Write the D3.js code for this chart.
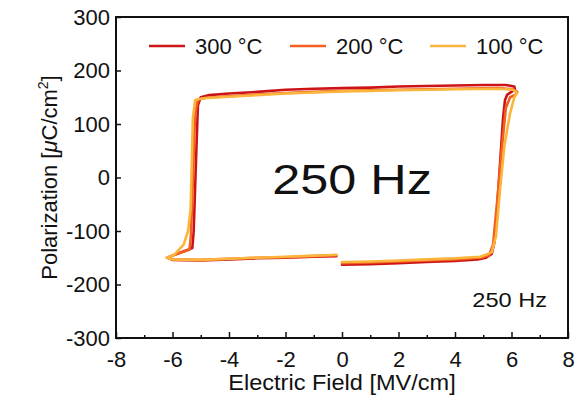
<!DOCTYPE html>
<html>
<head>
<meta charset="utf-8">
<script src="https://cdn.jsdelivr.net/npm/d3@7"></script>
<style>
  body { margin: 0; background: #fff; }
  svg text { font-family: "Liberation Sans", Arial, Helvetica, sans-serif; fill: #111; }
</style>
</head>
<body>
<svg id="svg" width="577" height="404"></svg>
<script>
const width = 577;
const height = 404;

// hysteresis loops, [field MV/cm, polarization uC/cm2]
const loop300 = [
  [0, -163], [1, -162], [2, -160], [3, -158], [4, -156], [4.8, -153], [5.1, -150],
  [5.3, -143], [5.4, -120], [5.5, -50], [5.6, 30], [5.7, 110], [5.77, 145], [5.85, 155],
  [6.0, 160], [6.12, 165], [6.1, 170], [5.8, 173], [5, 173], [4, 172], [3, 171], [2, 170],
  [1, 168], [0, 167], [-1, 166], [-2, 164], [-3, 160], [-4, 157], [-4.7, 154], [-5.0, 150],
  [-5.1, 135], [-5.15, 60], [-5.2, -20], [-5.25, -100], [-5.3, -132], [-5.6, -138],
  [-6.0, -146], [-6.15, -150], [-6.0, -154], [-5, -155], [-4, -153], [-3, -151], [-2, -150],
  [-1, -148], [-0.2, -147]
];
const loop200 = [
  [0, -160], [1, -159], [2, -157], [3, -155], [4, -153], [4.9, -150], [5.2, -146],
  [5.35, -125], [5.5, -40], [5.65, 50], [5.8, 130], [5.95, 150], [6.15, 155], [6.2, 160],
  [6.05, 165], [5.5, 167], [4, 166], [3, 165], [2, 164], [1, 163], [0, 162], [-1, 160],
  [-2, 158], [-3, 155], [-4, 152], [-4.8, 149], [-5.1, 146], [-5.2, 120], [-5.25, 40],
  [-5.3, -40], [-5.35, -110], [-5.4, -135], [-5.8, -142], [-6.05, -147], [-6.2, -150],
  [-6.0, -153], [-5, -154], [-4, -152], [-3, -150], [-2, -149], [-1, -147], [-0.2, -145]
];
const loop100 = [
  [0, -158], [1, -157], [2, -155], [3, -153], [4, -151], [4.9, -148], [5.3, -140],
  [5.45, -110], [5.6, -20], [5.75, 60], [5.95, 120], [6.1, 150], [6.2, 158], [6.05, 164],
  [5.5, 166], [4, 165], [3, 164], [2, 163], [1, 162], [0, 161], [-1, 159], [-2, 157],
  [-3, 154], [-4, 151], [-4.9, 148], [-5.2, 145], [-5.28, 110], [-5.32, 20], [-5.36, -60],
  [-5.45, -100], [-5.6, -125], [-5.95, -145], [-6.2, -150], [-6.0, -153], [-5, -154],
  [-4, -152], [-3, -150], [-2, -148], [-1, -146], [-0.2, -145]
];

const seriesNames = ["300 °C", "200 °C", "100 °C"];
const seriesColors = ["#cc1417", "#f2601f", "#fcb53c"];
const seriesData = [loop300, loop200, loop100];

const xTicks = [-8, -6, -4, -2, 0, 2, 4, 6, 8];
const xMinorTicks = [-7, -5, -3, -1, 1, 3, 5, 7];
const yTicks = [-300, -200, -100, 0, 100, 200, 300];

const margin = { left: 116, right: 9, top: 17, bottom: 66 };

let svg = d3.select("#svg");

const x = d3.scaleLinear().domain([-8, 8]).range([margin.left, width - margin.right]);
const y = d3.scaleLinear().domain([-300, 300]).range([height - margin.bottom, margin.top]);

// plain hyphen for negatives, like the original
const fmt = (d) => String(d);

// curves (drawn first so the frame sits on top)
const line = d3.line().x((d) => x(d[0])).y((d) => y(d[1]));

svg.append("g")
  .selectAll("path")
  .data(seriesData)
  .enter()
  .append("path")
  .attr("d", line)
  .attr("fill", "none")
  .attr("stroke", (d, i) => seriesColors[i])
  .attr("stroke-width", 2.6)
  .attr("stroke-linejoin", "round")
  .attr("stroke-linecap", "round");

// bottom axis, ticks inward
let xAxis = svg.append("g")
  .attr("transform", `translate(0,${y(-300)})`)
  .call(d3.axisBottom(x).tickValues(xTicks).tickSize(-6).tickPadding(10).tickFormat(fmt));
svg.append("g")
  .attr("transform", `translate(0,${y(-300)})`)
  .call(d3.axisBottom(x).tickValues(xMinorTicks).tickSize(-3).tickFormat(""))
  .call((g) => g.select(".domain").remove());

// left axis, ticks inward
let yAxis = svg.append("g")
  .attr("transform", `translate(${x(-8)},0)`)
  .call(d3.axisLeft(y).tickValues(yTicks).tickSize(-5).tickPadding(6).tickFormat(fmt));

svg.selectAll(".tick line").attr("stroke", "#111").attr("stroke-width", 1.5);
svg.selectAll(".domain").remove();
svg.selectAll(".tick text")
  .style("font-family", "'Liberation Sans', Arial, sans-serif")
  .style("font-size", "22px")
  .attr("fill", "#111");
xAxis.selectAll(".tick text").attr("dy", "0.85em");

// frame
svg.append("rect")
  .attr("x", x(-8))
  .attr("y", y(300))
  .attr("width", x(8) - x(-8))
  .attr("height", y(-300) - y(300))
  .attr("fill", "none")
  .attr("stroke", "#111")
  .attr("stroke-width", 2);

// axis titles
svg.append("text")
  .attr("transform", `translate(${(x(-8) + x(8)) / 2},390) scale(1.07,1)`)
  .attr("text-anchor", "middle")
  .style("font-size", "22px")
  .text("Electric Field [MV/cm]");

let yTitle = svg.append("text")
  .attr("transform", `translate(57,${(y(300) + y(-300)) / 2}) rotate(-90)`)
  .attr("text-anchor", "middle")
  .style("font-size", "22px");
yTitle.append("tspan").text("Polarization [");
yTitle.append("tspan").style("font-style", "italic").text("μ");
yTitle.append("tspan").text("C/cm");
yTitle.append("tspan").attr("dy", -9).style("font-size", "14px").text("2");
yTitle.append("tspan").attr("dy", 9).text("]");

// legend
const legendX = [149, 290, 430];
let legend = svg.append("g")
  .selectAll("g")
  .data(seriesNames)
  .enter()
  .append("g")
  .attr("transform", (d, i) => `translate(${legendX[i]},46)`);
legend.append("line")
  .attr("x1", 0)
  .attr("x2", 36)
  .attr("stroke", (d, i) => seriesColors[i])
  .attr("stroke-width", 2.6);
legend.append("text")
  .attr("x", 46)
  .attr("dy", "0.36em")
  .style("font-size", "22px")
  .text((d) => d);

// annotations
svg.append("text")
  .attr("transform", "translate(352,194) scale(1.2,1)")
  .attr("text-anchor", "middle")
  .style("font-size", "42px")
  .text("250 Hz");

svg.append("text")
  .attr("transform", "translate(547,307) scale(1.18,1)")
  .attr("text-anchor", "end")
  .style("font-size", "20px")
  .text("250 Hz");
</script>
</body>
</html>
